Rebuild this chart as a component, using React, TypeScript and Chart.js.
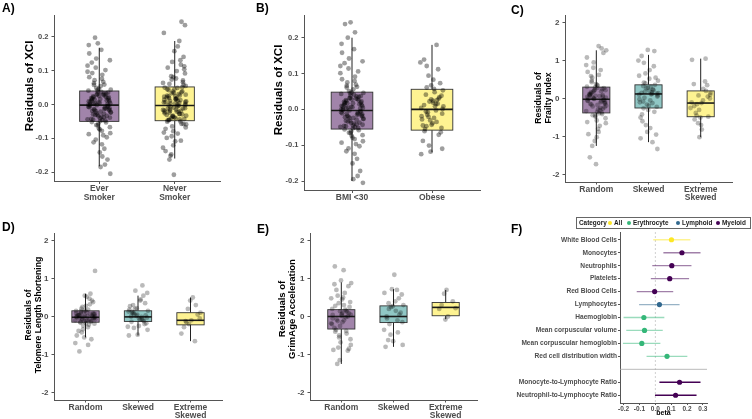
import React, { useEffect, useRef } from 'react';
import { Chart, registerables } from 'chart.js';

Chart.register(...registerables);

const FONT = "'Liberation Sans', Arial, Helvetica, sans-serif";
Chart.defaults.font.family = FONT;

// ---------- shared ----------
const jitterOffsets = [0.62, -0.35, 0.11, -0.83, 0.47, -0.12, 0.91, -0.58, 0.25, -0.97, 0.73, -0.21, 0.04, -0.66, 0.38, -0.44, 0.85, -0.07, 0.56, -0.9, 0.17, -0.29, 0.79, -0.51, 0.33, -0.76, 0.08, -0.15, 0.68, -0.39, 0.95, -0.62, 0.22, -0.03, 0.51, -0.87, 0.42, -0.25, 0.88, -0.47];
const xciTicks = [-0.2, -0.1, 0, 0.1, 0.2];
const xciTickLabels = ['-0.2', '-0.1', '0.0', '0.1', '0.2'];
const residualTicks = [-2, -1, 0, 1, 2];
const residualTickLabels = ['-2', '-1', '0', '1', '2'];
const skewCategories = ['Random', 'Skewed', ['Extreme', 'Skewed']];

// ---------- A) smoking ----------
const smokingCategories = [['Ever', 'Smoker'], ['Never', 'Smoker']];
const smokingLow = [-0.183, -0.16];
const smokingQ1 = [-0.05, -0.048];
const smokingMedian = [-0.002, -0.003];
const smokingQ3 = [0.04, 0.052];
const smokingHigh = [0.168, 0.188];
const smokingEver = [0.012, -0.031, 0.054, -0.008, 0.027, -0.062, 0.003, -0.019, 0.088, -0.044, 0.035, -0.002, -0.074, 0.019, -0.027, 0.063, -0.011, 0.006, -0.053, 0.041, -0.036, 0.109, -0.015, 0.024, -0.091, 0.001, -0.041, 0.031, -0.006, 0.072, -0.024, 0.014, -0.118, 0.046, -0.048, 0.009, -0.013, 0.136, -0.067, 0.022, -0.034, 0.004, -0.021, 0.081, -0.009, 0.038, -0.085, 0.017, -0.046, 0.097, -0.004, 0.029, -0.142, 0.011, -0.038, 0.058, -0.017, -0.057, 0.033, -0.001, 0.162, -0.104, 0.021, -0.029, 0.067, 0.007, -0.049, 0.043, -0.163, 0.015, -0.023, 0.124, -0.078, 0.026, -0.012, 0.176, -0.131, 0.049, -0.039, 0.002, -0.097, 0.198, -0.185, 0.151, -0.178, 0.181, -0.205, 0.093, -0.154, 0.115, 0.018, -0.026, 0.005, -0.043, 0.032, -0.014, 0.009, -0.035, 0.022, -0.007, 0.037, -0.02, 0.013, -0.045, 0.028, -0.003, 0.016, -0.031, 0.001, -0.016, 0.044, -0.052, 0.076, -0.071, 0.102, -0.088, 0.059, -0.061, 0.131, -0.112];
const smokingNever = [0.021, -0.028, 0.061, -0.011, 0.034, -0.057, 0.006, -0.021, 0.084, -0.043, 0.043, -0.004, -0.072, 0.017, -0.033, 0.071, -0.014, 0.009, -0.051, 0.049, -0.038, 0.118, -0.018, 0.027, -0.094, 0.002, -0.045, 0.039, -0.007, 0.077, -0.026, 0.013, -0.121, 0.055, -0.047, 0.011, -0.016, 0.141, -0.065, 0.025, -0.031, 0.005, -0.024, 0.092, -0.009, 0.036, -0.083, 0.019, -0.041, 0.104, -0.002, 0.031, -0.138, 0.015, -0.036, 0.066, -0.019, -0.059, 0.045, -0.001, 0.158, -0.107, 0.023, -0.028, 0.074, 0.008, -0.046, 0.051, -0.152, 0.016, -0.022, 0.131, -0.079, 0.029, -0.013, 0.172, -0.128, 0.058, -0.035, 0.003, -0.099, 0.188, -0.163, 0.235, -0.208, 0.245, 0.212, 0.099, -0.148, 0.113, 0.024, -0.022, 0.007, -0.041, 0.038, -0.012, 0.011, -0.033, 0.026, -0.006, 0.045, -0.019, 0.014, -0.044, 0.033, -0.002, 0.019, -0.029, 0.003, -0.015, 0.05, -0.05, 0.081, -0.068, 0.109, -0.086, 0.064, -0.058, 0.126, -0.109];

// ---------- B) BMI ----------
const bmiCategories = ['BMI <30', 'Obese'];
const bmiLow = [-0.2, -0.12];
const bmiQ1 = [-0.055, -0.058];
const bmiMedian = [-0.003, 0.0];
const bmiQ3 = [0.048, 0.056];
const bmiHigh = [0.2, 0.18];
const bmiUnder30 = [0.014, -0.034, 0.056, -0.011, 0.029, -0.066, 0.004, -0.022, 0.091, -0.049, 0.037, -0.003, -0.079, 0.021, -0.029, 0.066, -0.014, 0.007, -0.058, 0.043, -0.04, 0.114, -0.017, 0.026, -0.097, 0.001, -0.045, 0.032, -0.007, 0.075, -0.027, 0.016, -0.124, 0.047, -0.052, 0.01, -0.015, 0.142, -0.072, 0.023, -0.037, 0.005, -0.024, 0.084, -0.01, 0.039, -0.089, 0.018, -0.05, 0.101, -0.005, 0.031, -0.151, 0.012, -0.042, 0.061, -0.019, -0.062, 0.035, -0.001, 0.168, -0.109, 0.022, -0.032, 0.069, 0.008, -0.053, 0.045, -0.172, 0.017, -0.026, 0.129, -0.083, 0.028, -0.013, 0.183, -0.138, 0.051, -0.043, 0.003, -0.103, 0.2, -0.195, 0.158, -0.186, 0.243, -0.205, 0.238, 0.215, 0.121, 0.019, -0.024, 0.006, -0.046, 0.036, -0.012, 0.01, -0.038, 0.025, -0.008, 0.041, -0.021, 0.013, -0.047, 0.03, -0.002, 0.017, -0.033, 0.002, -0.018, 0.046, -0.056, 0.079, -0.074, 0.106, -0.093, 0.063, -0.065, 0.134, -0.117];
const bmiObese = [0.012, -0.035, 0.061, -0.012, 0.028, -0.071, 0.004, -0.024, 0.094, -0.052, 0.041, -0.003, -0.088, 0.019, -0.031, 0.073, -0.015, 0.008, -0.061, 0.048, -0.043, 0.112, -0.019, 0.026, -0.101, 0.001, -0.047, 0.034, -0.008, 0.083, -0.028, 0.016, -0.118, 0.053, -0.055, 0.009, 0.131, -0.064, 0.022, -0.039, 0.139, 0.18, 0.121, -0.11, 0.067, 0.03, -0.125, 0.057, -0.021, 0.038, -0.006, 0.015, -0.045, 0.024];

// ---------- C) frailty ----------
const frailtyLow = [-1.25, -1.15, -1.02];
const frailtyQ1 = [-0.38, -0.25, -0.48];
const frailtyMedian = [-0.02, 0.12, -0.12];
const frailtyQ3 = [0.3, 0.36, 0.2];
const frailtyHigh = [1.27, 1.15, 1.05];
const frailtyRandom = [0.05, -0.21, 0.34, -0.06, 0.19, -0.45, 0.02, -0.14, 0.62, -0.33, 0.27, -0.01, -0.58, 0.12, -0.25, 0.47, -0.09, 0.07, -0.41, 0.31, -0.29, 0.81, -0.12, 0.16, -0.72, 0.0, -0.35, 0.23, -0.04, 0.55, -0.19, 0.1, -0.88, 0.38, -0.37, 0.04, -0.1, 0.95, -0.52, 0.14, -0.27, 0.03, -0.17, 0.7, -0.07, 0.29, -0.65, 0.11, -0.39, 0.88, -0.03, 0.21, -1.02, 0.08, -0.31, 0.43, -0.13, -0.48, 0.25, 1.08, -0.8, 0.18, -0.23, 0.59, 0.06, -0.94, 0.36, -1.12, 1.2, -1.25, 1.27, -1.55, 1.38, -1.73, 1.32, -0.62, 0.75, 0.0, 0.22, -0.16, 0.09, -0.44, 0.28, -0.05];
const frailtySkewed = [0.15, -0.12, 0.42, 0.05, 0.28, -0.35, 0.1, -0.05, 0.66, -0.22, 0.33, 0.12, -0.5, 0.2, -0.16, 0.55, 0.02, 0.14, -0.42, 0.31, -0.3, 0.85, -0.02, 0.24, -0.7, 0.08, -0.26, 0.36, 0.18, 0.75, -0.1, 0.22, -0.88, 0.47, -0.6, 0.11, 1.0, -0.95, 0.27, -0.19, 1.12, -1.15, 0.94, -1.33, 1.28, 1.25, 0.6, -0.78, 0.4, 0.13, -0.08, 0.17, -1.05, 0.52];
const frailtyExtreme = [-0.12, -0.3, 0.05, -0.45, 0.15, -0.2, -0.05, -0.5, 0.2, -0.1, 0.45, -0.65, 0.0, -0.38, 0.35, -0.15, -0.82, 1.02, 1.05, -1.02, 0.1, -0.55, 0.25, -0.25, -0.48, 0.08, -0.7, 0.38];

// ---------- D) telomere ----------
const telomereLow = [-0.55, -0.5, -0.65];
const telomereQ1 = [-0.15, -0.13, -0.22];
const telomereMedian = [-0.02, -0.01, -0.1];
const telomereQ3 = [0.15, 0.15, 0.1];
const telomereHigh = [0.6, 0.55, 0.5];
const telomereRandom = [0.02, -0.06, 0.11, -0.02, 0.06, -0.13, 0.0, -0.04, 0.18, -0.1, 0.08, -0.01, -0.18, 0.04, -0.08, 0.14, -0.03, 0.01, -0.12, 0.09, -0.09, 0.25, -0.05, 0.05, -0.22, 0.03, -0.11, 0.12, -0.02, 0.21, -0.07, 0.03, -0.28, 0.16, -0.14, 0.0, 0.32, -0.34, 0.07, -0.16, 0.42, -0.42, 0.52, -0.5, 0.6, -0.55, 1.2, -0.92, -0.75, -0.7, 0.38, -0.24, 0.28, -0.38, 0.47, 0.1, -0.19, 0.55, -0.6, 0.15, 0.01, -0.07, 0.06, -0.15];
const telomereSkewed = [0.0, -0.06, 0.1, -0.03, 0.05, -0.12, 0.13, -0.09, 0.2, -0.18, 0.08, -0.01, 0.27, -0.25, 0.02, 0.35, -0.3, 0.15, -0.14, 0.42, -0.48, 0.55, -0.5, 0.82, 0.68, 0.62, 0.3, -0.2, 0.06, -0.05, 0.18, -0.1, 0.22, -0.35, 0.12, 0.45, -0.27, 0.03];
const telomereExtreme = [-0.1, -0.2, 0.05, -0.15, 0.1, -0.28, 0.5, 0.42, 0.3, -0.45, -0.65, 0.2, -0.05, -0.12];

// ---------- E) GrimAge ----------
const grimLow = [-1.25, -0.8, -0.07];
const grimQ1 = [-0.33, -0.16, 0.02];
const grimMedian = [0.0, 0.0, 0.24];
const grimQ3 = [0.18, 0.28, 0.37];
const grimHigh = [0.9, 0.72, 0.7];
const grimRandom = [0.0, -0.12, 0.1, -0.05, 0.15, -0.25, 0.05, -0.4, 0.3, -0.18, 0.08, -0.55, 0.02, -0.3, 0.18, -0.08, 0.38, -0.68, 0.12, -0.2, 0.5, -0.82, 0.25, -0.35, 0.62, -0.88, 0.45, -1.15, 0.8, -1.25, 0.88, 1.32, 1.22, 0.95, -0.45, 0.2, -0.02, 0.35, -0.6, 0.7, -0.9, 0.55, -0.15, 0.04, -0.38, 0.14, -0.75, 0.28, -0.1, 0.48, -0.85, -0.5, 0.06, 0.85];
const grimSkewed = [0.0, -0.1, 0.2, -0.15, 0.27, 0.05, -0.35, 0.4, -0.48, 0.58, -0.62, 0.7, -0.8, 1.1, 0.72, 0.1, -0.2, 0.3, -0.05, 0.15, -0.65, 0.48, 0.62, -0.42, 0.25, -0.75, 0.35];
const grimExtreme = [0.7, 0.6, 0.4, 0.3, 0.22, 0.2, 0.0, -0.08];

// ---------- F) blood counts ----------
const countLabels = ['White Blood Cells', 'Monocytes', 'Neutrophils', 'Platelets', 'Red Blood Cells', 'Lymphocytes', 'Haemoglobin', 'Mean corpuscular volume', 'Mean corpuscular hemoglobin', 'Red cell distribution width'];
const countCategories = ['All', 'Myeloid', 'Myeloid', 'Myeloid', 'Myeloid', 'Lymphoid', 'Erythrocyte', 'Erythrocyte', 'Erythrocyte', 'Erythrocyte'];
const countBeta = [0.102, 0.168, 0.104, 0.091, -0.004, 0.026, -0.072, -0.068, -0.085, 0.074];
const countLower = [-0.013, 0.051, -0.019, -0.028, -0.117, -0.102, -0.2, -0.183, -0.204, -0.055];
const countUpper = [0.221, 0.285, 0.228, 0.213, 0.113, 0.153, 0.057, 0.047, 0.032, 0.202];
const ratioLabels = ['Monocyte-to-Lymphocyte Ratio', 'Neutrophil-to-Lymphocyte Ratio'];
const ratioCategories = ['Myeloid', 'Myeloid'];
const ratioBeta = [0.153, 0.128];
const ratioLower = [0.026, -0.002];
const ratioUpper = [0.285, 0.26];
const categoryNames = ['All', 'Erythrocyte', 'Lymphoid', 'Myeloid'];
const betaTicks = [-0.2, -0.1, 0, 0.1, 0.2, 0.3];
const betaTickLabels = ['-0.2', '-0.1', '0.0', '0.1', '0.2', '0.3'];

// ---------- styling ----------
const categoryColors: Record<string, string> = { All: '#fde725', Erythrocyte: '#35b779', Lymphoid: '#31688e', Myeloid: '#440154' };
const FILL_PURPLE = '#a184aa';
const FILL_TEAL = '#90c7c5';
const FILL_YELLOW = '#fef392';
const AXIS_COLOR = '#555555';
const TICK_TEXT = '#4d4d4d';
const BOX_WIDTH = 0.52;

function withAlpha(hex: string, a: number) {
  const n = parseInt(hex.slice(1), 16);
  return `rgba(${(n >> 16) & 255},${(n >> 8) & 255},${n & 255},${a})`;
}

type BoxCfg = {
  id: string;
  left: number; top: number; width: number; height: number;
  area: { l: number; t: number; r: number; b: number };
  categories: any[];
  low: number[]; q1: number[]; median: number[]; q3: number[]; high: number[];
  groups: number[][];
  fills: string[];
  yMin: number; yMax: number; yTicks: number[]; yTickLabels: string[];
  yTitle: string[]; titleSize: number; titleX: number; titleY: number;
  tickSize: number; catSize: number; jitter: number; pointAlpha: number;
};

const boxPanels: BoxCfg[] = [
  {
    id: 'A', left: 0, top: 0, width: 250, height: 210,
    area: { l: 54, t: 15, r: 220, b: 181.5 },
    categories: smokingCategories, low: smokingLow, q1: smokingQ1, median: smokingMedian, q3: smokingQ3, high: smokingHigh,
    groups: [smokingEver, smokingNever], fills: [FILL_PURPLE, FILL_YELLOW],
    yMin: -0.228, yMax: 0.265, yTicks: xciTicks, yTickLabels: xciTickLabels,
    yTitle: ['Residuals of XCI'], titleSize: 11.5, titleX: 29.5, titleY: 86, tickSize: 7.5, catSize: 8.5, jitter: 0.16, pointAlpha: 0.38,
  },
  {
    id: 'B', left: 250, top: 0, width: 250, height: 210,
    area: { l: 304, t: 15, r: 480, b: 190.5 },
    categories: bmiCategories, low: bmiLow, q1: bmiQ1, median: bmiMedian, q3: bmiQ3, high: bmiHigh,
    groups: [bmiUnder30, bmiObese], fills: [FILL_PURPLE, FILL_YELLOW],
    yMin: -0.2265, yMax: 0.2634, yTicks: xciTicks, yTickLabels: xciTickLabels,
    yTitle: ['Residuals of XCI'], titleSize: 11.5, titleX: 279.3, titleY: 90, tickSize: 7.5, catSize: 8.5, jitter: 0.15, pointAlpha: 0.38,
  },
  {
    id: 'C', left: 500, top: 0, width: 252, height: 210,
    area: { l: 565, t: 15, r: 732, b: 182 },
    categories: skewCategories, low: frailtyLow, q1: frailtyQ1, median: frailtyMedian, q3: frailtyQ3, high: frailtyHigh,
    groups: [frailtyRandom, frailtySkewed, frailtyExtreme], fills: [FILL_PURPLE, FILL_TEAL, FILL_YELLOW],
    yMin: -2.2, yMax: 2.2, yTicks: residualTicks, yTickLabels: residualTickLabels,
    yTitle: ['Residuals of', 'Frailty Index'], titleSize: 8.7, titleX: 539, titleY: 98, tickSize: 8, catSize: 8.5, jitter: 0.2, pointAlpha: 0.27,
  },
  {
    id: 'D', left: 0, top: 210, width: 250, height: 209,
    area: { l: 54, t: 233, r: 222, b: 400 },
    categories: skewCategories, low: telomereLow, q1: telomereQ1, median: telomereMedian, q3: telomereQ3, high: telomereHigh,
    groups: [telomereRandom, telomereSkewed, telomereExtreme], fills: [FILL_PURPLE, FILL_TEAL, FILL_YELLOW],
    yMin: -2.2, yMax: 2.2, yTicks: residualTicks, yTickLabels: residualTickLabels,
    yTitle: ['Residuals of', 'Telomere Length Shortening'], titleSize: 8.6, titleX: 29, titleY: 315, tickSize: 8, catSize: 8.5, jitter: 0.2, pointAlpha: 0.27,
  },
  {
    id: 'E', left: 250, top: 210, width: 250, height: 209,
    area: { l: 310, t: 233, r: 477, b: 400 },
    categories: skewCategories, low: grimLow, q1: grimQ1, median: grimMedian, q3: grimQ3, high: grimHigh,
    groups: [grimRandom, grimSkewed, grimExtreme], fills: [FILL_PURPLE, FILL_TEAL, FILL_YELLOW],
    yMin: -2.2, yMax: 2.2, yTicks: residualTicks, yTickLabels: residualTickLabels,
    yTitle: ['Residuals of', 'GrimAge Acceleration'], titleSize: 9.5, titleX: 282.7, titleY: 309, tickSize: 8, catSize: 8.5, jitter: 0.2, pointAlpha: 0.27,
  },
];

function BoxChart({ cfg }: { cfg: BoxCfg }) {
  const ref = useRef<HTMLCanvasElement>(null);
  useEffect(() => {
    if (!ref.current) return;
    const p = cfg;
    const n = p.categories.length;
    const areaL = p.area.l - p.left;
    const areaT = p.area.t - p.top;
    const areaR = p.area.r - p.left;
    const areaB = p.area.b - p.top;

    const boxPlugin = {
      id: 'boxes' + p.id,
      beforeDatasetsDraw(chart: any) {
        const { ctx, scales } = chart;
        const x = scales.x, y = scales.y;
        ctx.save();
        p.q1.forEach((_: number, i: number) => {
          const c = i + 1;
          const cx = x.getPixelForValue(c);
          const x0 = x.getPixelForValue(c - BOX_WIDTH / 2);
          const x1 = x.getPixelForValue(c + BOX_WIDTH / 2);
          const yLo = y.getPixelForValue(p.low[i]);
          const yQ1 = y.getPixelForValue(p.q1[i]);
          const yMed = y.getPixelForValue(p.median[i]);
          const yQ3 = y.getPixelForValue(p.q3[i]);
          const yHi = y.getPixelForValue(p.high[i]);
          ctx.strokeStyle = '#222222';
          ctx.lineWidth = 1;
          ctx.beginPath();
          ctx.moveTo(cx, yQ3); ctx.lineTo(cx, yHi);
          ctx.moveTo(cx, yQ1); ctx.lineTo(cx, yLo);
          ctx.stroke();
          ctx.fillStyle = p.fills[i];
          ctx.fillRect(x0, yQ3, x1 - x0, yQ1 - yQ3);
          ctx.strokeStyle = '#333333';
          ctx.lineWidth = 0.9;
          ctx.strokeRect(x0, yQ3, x1 - x0, yQ1 - yQ3);
          ctx.strokeStyle = '#1a1a1a';
          ctx.lineWidth = 1.6;
          ctx.beginPath();
          ctx.moveTo(x0, yMed); ctx.lineTo(x1, yMed);
          ctx.stroke();
        });
        ctx.restore();
      },
    };

    const titlePlugin = {
      id: 'ytitle' + p.id,
      afterDraw(chart: any) {
        const { ctx } = chart;
        const lh = 10;
        ctx.save();
        ctx.font = `bold ${p.titleSize}px ${FONT}`;
        ctx.fillStyle = '#000000';
        ctx.textAlign = 'center';
        ctx.textBaseline = 'middle';
        p.yTitle.forEach((line, k) => {
          ctx.save();
          ctx.translate(p.titleX - p.left + k * lh, p.titleY - p.top);
          ctx.rotate(-Math.PI / 2);
          ctx.fillText(line, 0, 0);
          ctx.restore();
        });
        ctx.restore();
      },
    };

    const points: { x: number; y: number }[] = [];
    p.groups.forEach((g, gi) => {
      g.forEach((v, i) => {
        const off = jitterOffsets[(i + gi * 13) % jitterOffsets.length];
        points.push({ x: gi + 1 + off * p.jitter, y: v });
      });
    });

    const chart = new Chart(ref.current, {
      type: 'scatter',
      data: {
        datasets: [{
          data: points,
          pointRadius: 2.4,
          pointBorderWidth: 0,
          pointBackgroundColor: `rgba(0,0,0,${p.pointAlpha})`,
          borderColor: 'rgba(0,0,0,0)',
        }],
      },
      options: {
        responsive: false,
        animation: false,
        devicePixelRatio: 1,
        events: [],
        layout: { padding: { left: 0, top: areaT, right: p.width - areaR, bottom: 0 } },
        plugins: { legend: { display: false }, tooltip: { enabled: false } },
        scales: {
          x: {
            type: 'linear',
            min: 0.4,
            max: n + 0.6,
            afterBuildTicks: (s: any) => { s.ticks = p.categories.map((_: any, i: number) => ({ value: i + 1 })); },
            afterFit: (s: any) => { s.height = p.height - areaB; },
            ticks: {
              autoSkip: false,
              maxRotation: 0,
              padding: 0.5,
              color: TICK_TEXT,
              font: { size: p.catSize, weight: 'bold', lineHeight: 1.02 },
              callback: (_v: any, i: number) => p.categories[i],
            },
            grid: { drawOnChartArea: false, tickLength: 2.5, color: AXIS_COLOR },
            border: { color: AXIS_COLOR, width: 1 },
          },
          y: {
            type: 'linear',
            min: p.yMin,
            max: p.yMax,
            afterBuildTicks: (s: any) => { s.ticks = p.yTicks.map((v) => ({ value: v })); },
            afterFit: (s: any) => { s.width = areaL; },
            ticks: {
              padding: 3,
              color: TICK_TEXT,
              font: { size: p.tickSize, weight: 'bold' },
              callback: (_v: any, i: number) => p.yTickLabels[i],
            },
            grid: { drawOnChartArea: false, tickLength: 2.5, color: AXIS_COLOR },
            border: { color: AXIS_COLOR, width: 1 },
          },
        },
      } as any,
      plugins: [boxPlugin, titlePlugin],
    });
    return () => chart.destroy();
  }, [cfg]);
  return (
    <div style={{ position: 'absolute', left: cfg.left, top: cfg.top, width: cfg.width, height: cfg.height }}>
      <canvas ref={ref} width={cfg.width} height={cfg.height} style={{ display: 'block' }} />
    </div>
  );
}

function ForestChart() {
  const ref = useRef<HTMLCanvasElement>(null);
  const left = 500, top = 210, width = 252, height = 209;
  const area = { l: 620, t: 232, r: 707, b: 403 };
  useEffect(() => {
    if (!ref.current) return;
    const rows = [
      ...countLabels.map((label, i) => ({ label, cat: countCategories[i], beta: countBeta[i], lo: countLower[i], hi: countUpper[i], pos: i + 1, solid: false })),
      ...ratioLabels.map((label, i) => ({ label, cat: ratioCategories[i], beta: ratioBeta[i], lo: ratioLower[i], hi: ratioUpper[i], pos: countLabels.length + 2 + i, solid: true })),
    ];
    const separator = countLabels.length + 1;
    const areaL = area.l - left, areaT = area.t - top, areaR = area.r - left, areaB = area.b - top;

    const ciPlugin = {
      id: 'ci',
      beforeDatasetsDraw(chart: any) {
        const { ctx, scales, chartArea } = chart;
        const x = scales.x, y = scales.y;
        ctx.save();
        const zx = x.getPixelForValue(0);
        ctx.strokeStyle = '#c4c4c4';
        ctx.lineWidth = 0.8;
        ctx.setLineDash([2, 2]);
        ctx.beginPath();
        ctx.moveTo(zx, chartArea.top); ctx.lineTo(zx, chartArea.bottom);
        ctx.stroke();
        ctx.setLineDash([]);
        const sy = y.getPixelForValue(separator);
        ctx.strokeStyle = '#a8a8a8';
        ctx.beginPath();
        ctx.moveTo(chartArea.left, sy); ctx.lineTo(chartArea.right, sy);
        ctx.stroke();
        rows.forEach((r) => {
          const yy = y.getPixelForValue(r.pos);
          ctx.strokeStyle = r.solid ? categoryColors[r.cat] : withAlpha(categoryColors[r.cat], 0.5);
          ctx.lineWidth = 1.3;
          ctx.beginPath();
          ctx.moveTo(x.getPixelForValue(r.lo), yy);
          ctx.lineTo(x.getPixelForValue(r.hi), yy);
          ctx.stroke();
        });
        ctx.restore();
      },
    };

    const chart = new Chart(ref.current, {
      type: 'scatter',
      data: {
        datasets: [{
          data: rows.map((r) => ({ x: r.beta, y: r.pos })),
          pointRadius: 2.6,
          pointBorderWidth: 0,
          pointBackgroundColor: rows.map((r) => categoryColors[r.cat]),
        }],
      },
      options: {
        responsive: false,
        animation: false,
        devicePixelRatio: 1,
        events: [],
        layout: { padding: { left: 0, top: areaT, right: width - areaR, bottom: 0 } },
        plugins: { legend: { display: false }, tooltip: { enabled: false } },
        scales: {
          x: {
            type: 'linear',
            min: -0.2225,
            max: 0.326,
            afterBuildTicks: (s: any) => { s.ticks = betaTicks.map((v) => ({ value: v })); },
            afterFit: (s: any) => { s.height = height - areaB; },
            ticks: {
              autoSkip: false,
              maxRotation: 0,
              padding: 0.5,
              color: TICK_TEXT,
              font: { size: 6.5, weight: 'bold' },
              callback: (_v: any, i: number) => betaTickLabels[i],
            },
            grid: { drawOnChartArea: false, tickLength: 2, color: AXIS_COLOR },
            border: { color: AXIS_COLOR, width: 1 },
            title: {
              display: true,
              text: 'beta',
              color: '#000000',
              font: { size: 7, weight: 'bold', lineHeight: 1.2 },
              padding: { top: 0, bottom: 1.8 },
            },
          },
          y: {
            type: 'linear',
            reverse: true,
            min: 0.4,
            max: rows.length + 1.6,
            afterBuildTicks: (s: any) => { s.ticks = rows.map((r) => ({ value: r.pos })); },
            afterFit: (s: any) => { s.width = areaL; },
            ticks: {
              autoSkip: false,
              padding: 1,
              color: TICK_TEXT,
              font: { size: 6.6, weight: 'bold' },
              callback: (_v: any, i: number) => rows[i].label,
            },
            grid: { drawOnChartArea: false, tickLength: 2, color: AXIS_COLOR },
            border: { color: AXIS_COLOR, width: 1 },
          },
        },
      } as any,
      plugins: [ciPlugin],
    });
    return () => chart.destroy();
  }, []);
  return (
    <div style={{ position: 'absolute', left, top, width, height }}>
      <canvas ref={ref} width={width} height={height} style={{ display: 'block' }} />
    </div>
  );
}

function Legend() {
  const itemX = [37, 56, 105, 145];
  const dotX = [33, 52, 101, 141];
  return (
    <div style={{ position: 'absolute', left: 576, top: 217, width: 173, height: 10, border: '1px solid #666', fontFamily: FONT, fontSize: 6.4, fontWeight: 'bold', lineHeight: '10px', color: '#1a1a1a' }}>
      <span style={{ position: 'absolute', left: 2, top: 0 }}>Category</span>
      {categoryNames.map((name, i) => (
        <React.Fragment key={name}>
          <span style={{ position: 'absolute', left: dotX[i] - 2, top: 3, width: 4, height: 4, borderRadius: 2, background: categoryColors[name] }} />
          <span style={{ position: 'absolute', left: itemX[i], top: 0, whiteSpace: 'nowrap' }}>{name}</span>
        </React.Fragment>
      ))}
    </div>
  );
}

const panelLetters = [
  { text: 'A)', x: 2, y: 1 },
  { text: 'B)', x: 256, y: 1 },
  { text: 'C)', x: 511, y: 3 },
  { text: 'D)', x: 2, y: 220 },
  { text: 'E)', x: 257, y: 222 },
  { text: 'F)', x: 511, y: 222 },
];

export default function App() {
  return (
    <div style={{ position: 'absolute', left: 0, top: 0, width: 752, height: 419, background: '#ffffff', overflow: 'hidden' }}>
      {boxPanels.map((p) => <BoxChart key={p.id} cfg={p} />)}
      <ForestChart />
      <Legend />
      {panelLetters.map((l) => (
        <div key={l.text} style={{ position: 'absolute', left: l.x, top: l.y, fontFamily: FONT, fontWeight: 'bold', fontSize: 12, lineHeight: '14px', color: '#000' }}>{l.text}</div>
      ))}
    </div>
  );
}
